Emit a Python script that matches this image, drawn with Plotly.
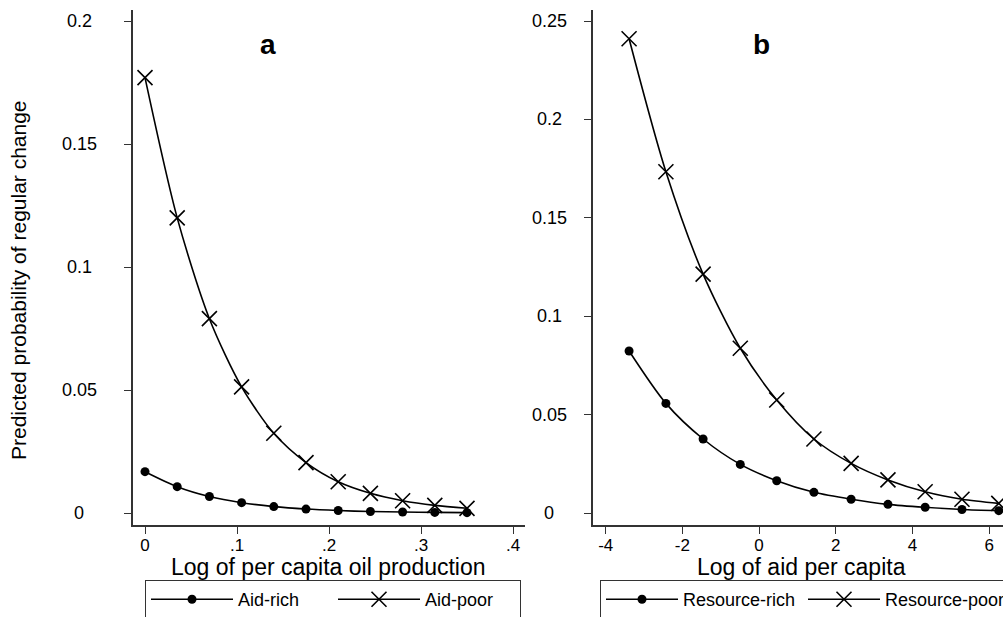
import plotly.graph_objects as go

W, H = 1003, 617

# ---------------- data ----------------
oil_x = [0.0, 0.035, 0.07, 0.105, 0.14, 0.175, 0.21, 0.245, 0.28, 0.315, 0.35]
aid_rich = [0.0168, 0.0107, 0.0067, 0.0042, 0.0026, 0.0016, 0.0010, 0.0006, 0.0004, 0.00025, 0.00015]
aid_poor = [0.177, 0.120, 0.079, 0.0513, 0.0324, 0.0205, 0.0127, 0.0080, 0.0050, 0.0031, 0.0019]

aid_x = [-3.39, -2.43, -1.46, -0.49, 0.46, 1.43, 2.40, 3.36, 4.33, 5.29, 6.25]
resource_rich = [0.0823, 0.0557, 0.0376, 0.0247, 0.0164, 0.0105, 0.0070, 0.0044, 0.0029, 0.0018, 0.0012]
resource_poor = [0.241, 0.1734, 0.1214, 0.0837, 0.0574, 0.0376, 0.0252, 0.0168, 0.0108, 0.0070, 0.0049]

a_xticks = [0, 0.1, 0.2, 0.3, 0.4]
a_xlabels = ["0", ".1", ".2", ".3", ".4"]
a_yticks = [0, 0.05, 0.1, 0.15, 0.2]
a_ylabels = ["0", "0.05", "0.1", "0.15", "0.2"]
b_xticks = [-4, -2, 0, 2, 4, 6]
b_xlabels = ["-4", "-2", "0", "2", "4", "6"]
b_yticks = [0, 0.05, 0.1, 0.15, 0.2, 0.25]
b_ylabels = ["0", "0.05", "0.1", "0.15", "0.2", "0.25"]

FONT = "Liberation Sans, Arial, Helvetica, sans-serif"
AX = "#333333"


def px(x):
    return x / W


def py(y):
    return 1 - y / H


dot = dict(symbol="circle", size=9, color="black")
cross = dict(symbol="x-thin", size=15, color="black", line=dict(width=1.6, color="black"))
line = dict(color="black", width=1.6, shape="spline", smoothing=0.8)

fig = go.Figure()
fig.add_trace(go.Scatter(x=oil_x, y=aid_rich, mode="lines+markers", name="Aid-rich",
                         marker=dot, line=line, xaxis="x", yaxis="y", legend="legend"))
fig.add_trace(go.Scatter(x=oil_x, y=aid_poor, mode="lines+markers", name="Aid-poor",
                         marker=cross, line=line, xaxis="x", yaxis="y", legend="legend"))
fig.add_trace(go.Scatter(x=aid_x, y=resource_rich, mode="lines+markers", name="Resource-rich",
                         marker=dot, line=line, xaxis="x2", yaxis="y2", legend="legend2",
                         cliponaxis=False))
fig.add_trace(go.Scatter(x=aid_x, y=resource_poor, mode="lines+markers", name="Resource-poor",
                         marker=cross, line=line, xaxis="x2", yaxis="y2", legend="legend2",
                         cliponaxis=False))

axis_common = dict(showline=True, linecolor=AX, linewidth=1.5, ticks="outside", ticklen=7,
                   tickwidth=1.3, tickcolor=AX, showgrid=False, zeroline=False,
                   tickfont=dict(family=FONT, size=17, color="black"))

ydom = [py(525), py(10)]

legend_common = dict(orientation="h", xanchor="left", yanchor="top",
                     bordercolor=AX, borderwidth=1,
                     font=dict(family=FONT, size=18, color="black"),
                     entrywidthmode="pixels", bgcolor="white")

fig.update_layout(
    width=W, height=H,
    margin=dict(l=0, r=0, t=0, b=0, autoexpand=False),
    paper_bgcolor="white", plot_bgcolor="white",
    font=dict(family=FONT, color="black"),
    xaxis=dict(domain=[px(133), px(525)], range=[-0.01304, 0.41304], anchor="y",
               tickvals=a_xticks, ticktext=a_xlabels, ticklabelstandoff=-3, **axis_common),
    yaxis=dict(domain=ydom, range=[-0.00488, 0.2045], anchor="x",
               tickvals=a_yticks, showticklabels=False, **axis_common),
    xaxis2=dict(domain=[px(593), 1.0], range=[-4.331, 6.36], anchor="y2",
                tickvals=b_xticks, ticktext=b_xlabels, ticklabelstandoff=-3, **axis_common),
    yaxis2=dict(domain=ydom, range=[-0.0061, 0.2556], anchor="x2",
                tickvals=b_yticks, showticklabels=False, **axis_common),
    legend=dict(x=px(145), y=py(580), entrywidth=90, itemwidth=82, **legend_common),
    legend2=dict(x=px(600), y=py(580), entrywidth=115, itemwidth=72, **legend_common),
    showlegend=True,
)

ann = []
# y tick labels (centered, as in the original)
for v, t in zip(a_yticks, a_ylabels):
    ann.append(dict(x=px(79), xref="paper", y=v, yref="y", text=t, showarrow=False,
                    xanchor="center", yanchor="middle", font=dict(family=FONT, size=18)))
for v, t in zip(b_yticks, b_ylabels):
    ann.append(dict(x=px(549), xref="paper", y=v, yref="y2", text=t, showarrow=False,
                    xanchor="center", yanchor="middle", font=dict(family=FONT, size=18)))
# axis titles
ann.append(dict(x=px(328), y=py(567), xref="paper", yref="paper", showarrow=False,
                text="Log of per capita oil production", xanchor="center", yanchor="middle",
                font=dict(family=FONT, size=23)))
ann.append(dict(x=px(801.7), y=py(567), xref="paper", yref="paper", showarrow=False,
                text="Log of aid per capita", xanchor="center", yanchor="middle",
                font=dict(family=FONT, size=23)))
ann.append(dict(x=px(18), y=py(280), xref="paper", yref="paper", showarrow=False,
                text="Predicted probability of regular change", textangle=-90,
                xanchor="center", yanchor="middle", font=dict(family=FONT, size=21)))
# panel letters
ann.append(dict(x=px(268), y=py(45), xref="paper", yref="paper", showarrow=False,
                text="<b>a</b>", xanchor="center", yanchor="middle",
                font=dict(family=FONT, size=28)))
ann.append(dict(x=px(761.5), y=py(45), xref="paper", yref="paper", showarrow=False,
                text="<b>b</b>", xanchor="center", yanchor="middle",
                font=dict(family=FONT, size=28)))
fig.update_layout(annotations=ann)

fig.write_html("out.html")
